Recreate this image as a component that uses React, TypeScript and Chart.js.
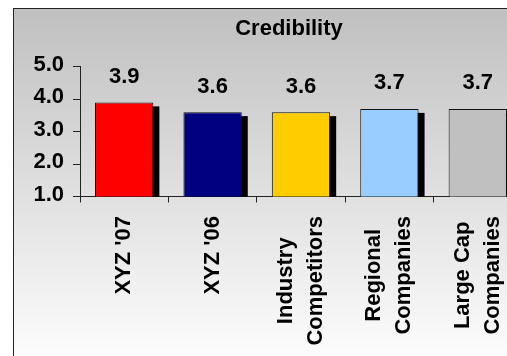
import React, { useEffect, useRef } from "react";
import { Chart, registerables } from "chart.js";

Chart.register(...registerables);

// Category names, one entry per line of the rotated axis label
const CATEGORY_LINES: string[][] = [
  ["XYZ '07"],
  ["XYZ '06"],
  ["Industry", "Competitors"],
  ["Regional", "Companies"],
  ["Large Cap", "Companies"],
];
const CREDIBILITY_SCORES: number[] = [3.9, 3.6, 3.6, 3.7, 3.7];
const BAR_COLORS: string[] = ["#FF0000", "#000080", "#FFCC00", "#99CCFF", "#C0C0C0"];
const Y_MIN = 1;
const Y_MAX = 5;
const Y_STEP = 1;
const TITLE = "Credibility";

const FONT_FAMILY = 'Arial, "Liberation Sans", Helvetica, sans-serif';
const LABEL_FONT = `bold 22px ${FONT_FAMILY}`;
const AXIS_COLOR = "#222";
const CANVAS_W = 570;
const CANVAS_H = 370;
const X_AXIS_HEIGHT = 173.5;
const LINE_GAP = 30;
// Outer chart frame (left, top, outer width, outer height)
const FRAME = { left: 13, top: 8, width: 552, height: 364 };
const TITLE_BASELINE = 35;

// Chart title, centred on the outer frame
const frameTitle = {
  id: "frameTitle",
  afterDraw(chart: any) {
    const { ctx } = chart;
    ctx.save();
    ctx.font = LABEL_FONT;
    ctx.fillStyle = "#000";
    ctx.textAlign = "center";
    ctx.textBaseline = "alphabetic";
    ctx.fillText(TITLE, FRAME.left + FRAME.width / 2, TITLE_BASELINE);
    ctx.restore();
  },
};

// Solid black drop shadow behind each bar, kept inside the plot area
const barShadow = {
  id: "barShadow",
  beforeDatasetsDraw(chart: any) {
    const { ctx, chartArea } = chart;
    const meta = chart.getDatasetMeta(0);
    ctx.save();
    ctx.beginPath();
    ctx.rect(chartArea.left, chartArea.top, chartArea.right - chartArea.left, chartArea.bottom - chartArea.top);
    ctx.clip();
    ctx.fillStyle = "#000";
    meta.data.forEach((bar: any) => {
      const { x, y, base, width } = bar.getProps(["x", "y", "base", "width"], true);
      ctx.fillRect(x - width / 2 + 6, y + 4, width, base - y);
    });
    ctx.restore();
  },
};

// Value printed above each bar
const valueLabels = {
  id: "valueLabels",
  afterDatasetsDraw(chart: any) {
    const { ctx } = chart;
    const meta = chart.getDatasetMeta(0);
    const values = chart.data.datasets[0].data as number[];
    ctx.save();
    ctx.font = LABEL_FONT;
    ctx.fillStyle = "#000";
    ctx.textAlign = "center";
    ctx.textBaseline = "alphabetic";
    meta.data.forEach((bar: any, i: number) => {
      const { x, y } = bar.getProps(["x", "y"], true);
      ctx.fillText(Number(values[i]).toFixed(1), x, y - 19.5);
    });
    ctx.restore();
  },
};

// Rotated category labels, lines centred on each category
const categoryLabels = {
  id: "categoryLabels",
  afterDraw(chart: any) {
    const { ctx } = chart;
    const xScale = chart.scales.x;
    const labels = chart.data.labels as string[][];
    const top = xScale.top + 19.5;
    ctx.save();
    ctx.font = LABEL_FONT;
    ctx.fillStyle = "#000";
    labels.forEach((lines, i) => {
      const x = xScale.getPixelForValue(i);
      const len = Math.max(...lines.map((l) => ctx.measureText(l).width));
      ctx.save();
      ctx.translate(x, top + len / 2);
      ctx.rotate(-Math.PI / 2);
      ctx.textAlign = "center";
      ctx.textBaseline = "middle";
      lines.forEach((line, j) => {
        ctx.fillText(line, 0, (j - (lines.length - 1) / 2) * LINE_GAP);
      });
      ctx.restore();
    });
    ctx.restore();
  },
};

export default function App() {
  const canvasRef = useRef<HTMLCanvasElement | null>(null);

  useEffect(() => {
    if (!canvasRef.current) return;
    const chart = new Chart(canvasRef.current, {
      type: "bar",
      data: {
        labels: CATEGORY_LINES,
        datasets: [
          {
            data: CREDIBILITY_SCORES,
            backgroundColor: BAR_COLORS,
            borderColor: "#111",
            borderWidth: 1,
            barPercentage: 0.66,
            categoryPercentage: 1,
          },
        ],
      },
      options: {
        responsive: false,
        animation: false,
        events: [],
        layout: { padding: { left: 30, right: 48, top: 66.7, bottom: 0 } },
        plugins: {
          legend: { display: false },
          tooltip: { enabled: false },
          title: { display: false },
        },
        scales: {
          x: {
            offset: true,
            grid: { display: true, drawOnChartArea: false, drawTicks: true, tickLength: 6, color: AXIS_COLOR },
            border: { display: true, color: AXIS_COLOR, width: 1 },
            ticks: { display: false },
            afterFit: (s: any) => {
              s.height = X_AXIS_HEIGHT;
            },
          },
          y: {
            min: Y_MIN,
            max: Y_MAX,
            ticks: {
              stepSize: Y_STEP,
              autoSkip: false,
              color: "#000",
              padding: 9,
              labelOffset: -2,
              font: { family: FONT_FAMILY, size: 22, weight: "bold" },
              callback: (v: any) => Number(v).toFixed(1),
            },
            grid: { display: true, drawOnChartArea: false, drawTicks: true, tickLength: 7, color: AXIS_COLOR },
            border: { display: true, color: AXIS_COLOR, width: 1 },
            afterFit: (s: any) => {
              s.width = 50;
            },
          },
        },
      },
      plugins: [barShadow, valueLabels, categoryLabels, frameTitle],
    } as any);
    return () => chart.destroy();
  }, []);

  return (
    <div
      style={{
        position: "fixed",
        left: 0,
        top: 0,
        width: 507,
        height: 356,
        overflow: "hidden",
        background: "#fff",
      }}
    >
      <div
        style={{
          position: "absolute",
          left: FRAME.left,
          top: FRAME.top,
          width: FRAME.width,
          height: FRAME.height,
          boxSizing: "border-box",
          border: `1px solid ${AXIS_COLOR}`,
          background: "linear-gradient(#c0c0c0, #ffffff)",
        }}
      />
      <canvas
        ref={canvasRef}
        width={CANVAS_W}
        height={CANVAS_H}
        style={{ position: "absolute", left: 0, top: 0, display: "block" }}
      />
    </div>
  );
}
